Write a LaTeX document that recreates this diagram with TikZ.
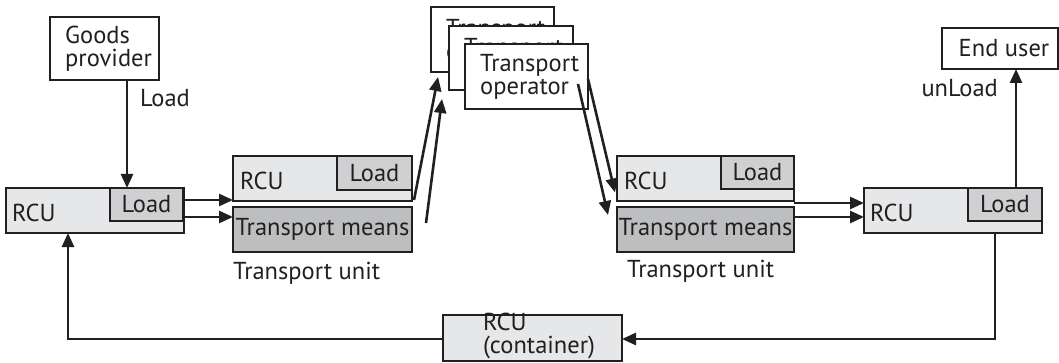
\documentclass[tikz,border=0pt]{standalone}
\usepackage{fontspec}
\setmainfont{PT Sans}
\usetikzlibrary{arrows.meta}
\definecolor{ink}{HTML}{231F20}
\definecolor{lightg}{HTML}{E6E7E8}
\definecolor{midg}{HTML}{CFD0D2}
\definecolor{darkg}{HTML}{BCBEC0}
\begin{document}
\begin{tikzpicture}[x=1pt,y=-1pt,
  box/.style={draw=ink,line width=2.9pt,inner sep=0pt,outer sep=0pt,anchor=north west,fill=white},
  txt/.style={font=\fontsize{24.5}{23}\selectfont,text=ink,inner sep=0pt,align=left},
  arr/.style={draw=ink,line width=2.6pt,-{Triangle[length=14pt,width=12pt]}},
  ln/.style={draw=ink,line width=2.6pt}]
\useasboundingbox (0,0) rectangle (1059,363);
% boxes
\node[box,minimum width=109pt,minimum height=63pt] (gp) at (50,17) {};
\node[box,fill=lightg,minimum width=178pt,minimum height=45pt] (lrcu) at (6,188) {};
\node[box,fill=midg,minimum width=73pt,minimum height=33pt] (lload) at (110,188) {};
\node[box,fill=lightg,minimum width=179pt,minimum height=45pt] (t1rcu) at (233,156) {};
\node[box,fill=midg,minimum width=75pt,minimum height=34pt] (t1load) at (337,156) {};
\node[box,fill=darkg,minimum width=179pt,minimum height=45pt] (t1tm) at (233,207) {};
\node[box,minimum width=123pt,minimum height=65pt] (op1) at (431,7) {};
\node[txt,anchor=north west] at (446,19) {Transport\\operator};
\node[box,minimum width=124pt,minimum height=64pt] (op2) at (449,26) {};
\node[txt,anchor=north west] at (464,38) {Transport\\operator};
\node[box,minimum width=123pt,minimum height=65pt] (op3) at (465,44) {};
\node[box,fill=lightg,minimum width=177pt,minimum height=45pt] (t2rcu) at (617,156) {};
\node[box,fill=midg,minimum width=73pt,minimum height=33pt] (t2load) at (721,156) {};
\node[box,fill=darkg,minimum width=177pt,minimum height=45pt] (t2tm) at (617,207) {};
\node[box,fill=lightg,minimum width=178pt,minimum height=45pt] (rrcu) at (864,188) {};
\node[box,fill=midg,minimum width=74pt,minimum height=33pt] (rload) at (968,188) {};
\node[box,minimum width=116pt,minimum height=41pt] (eu) at (942,28) {};
\node[box,fill=lightg,minimum width=179pt,minimum height=46pt] (cont) at (443,315) {};
% texts
\node[txt,anchor=west] at ([shift={(15pt,-0.5pt)}]gp.west) {Goods\\provider};
\node[txt,anchor=west] at ([xshift=6pt,yshift=-2pt]lrcu.west) {RCU};
\node[txt] at (lload.center) {Load};
\node[txt,anchor=west] at ([xshift=7pt,yshift=-2.5pt]t1rcu.west) {RCU};
\node[txt] at (t1load.center) {Load};
\node[txt] at (t1tm.center) {Transport means};
\node[txt,anchor=west] (tu1) at (233,273) {Transport unit};
\node[txt,anchor=west] at ([xshift=15pt]op3.west) {Transport\\operator};
\node[txt,anchor=west] at ([xshift=7pt,yshift=-2.5pt]t2rcu.west) {RCU};
\node[txt] at (t2load.center) {Load};
\node[txt] at (t2tm.center) {Transport means};
\node[txt,anchor=west] (tu2) at (627,271) {Transport unit};
\node[txt,anchor=west] at ([xshift=6pt,yshift=-2pt]rrcu.west) {RCU};
\node[txt] at (rload.center) {Load};
\node[txt] at ([xshift=4pt]eu.center) {End user};
\node[txt,anchor=west] at ([xshift=40pt,yshift=2pt]cont.west) {RCU\\(container)};
\node[txt,anchor=west] (ldl) at (140,98) {Load};
\node[txt,anchor=east] (ull) at (998,88) {unLoad};
% connectors
\draw[arr] ([xshift=22.5pt]gp.south) -- ([xshift=22.5pt]gp.south |- lload.north);
\draw[arr] ([yshift=10.5pt]lrcu.east) coordinate (a1) -- (t1rcu.west |- a1);
\draw[arr] ([yshift=-6.5pt]lrcu.east) coordinate (a2) -- (t1rcu.west |- a2);
\draw[arr] ([shift={(2pt,1pt)}]t1rcu.south east) -- ([shift={(7pt,-5pt)}]op1.south west);
\draw[arr] ([shift={(14pt,6.5pt)}]t1tm.east) -- ([shift={(-7pt,-9pt)}]op2.south west);
\draw[arr] ([shift={(0pt,-2.5pt)}]op3.east) -- ([shift={(-2pt,-14pt)}]t2rcu.west);
\draw[arr] ([shift={(-10pt,-7.5pt)}]op3.east) -- ([shift={(-9pt,14.5pt)}]t2tm.west);
\draw[arr] ([yshift=-2pt]t2rcu.south east) coordinate (b1) -- (rrcu.west |- b1);
\draw[arr] ([yshift=12.5pt]t2tm.east) coordinate (b2) -- (rrcu.west |- b2);
\draw[arr] ([xshift=11pt]rload.north) -- ([xshift=11pt]rload.north |- eu.south);
\draw[arr] ([xshift=42pt]rrcu.south) -- ([xshift=42pt,yshift=-1pt]rrcu.south |- cont.east) -- ([yshift=-1pt]cont.east);
\draw[arr] ([yshift=-1pt]cont.west) -- ([xshift=-27pt,yshift=-1pt]lrcu.south |- cont.west) -- ([xshift=-27pt]lrcu.south);
\end{tikzpicture}
\end{document}
